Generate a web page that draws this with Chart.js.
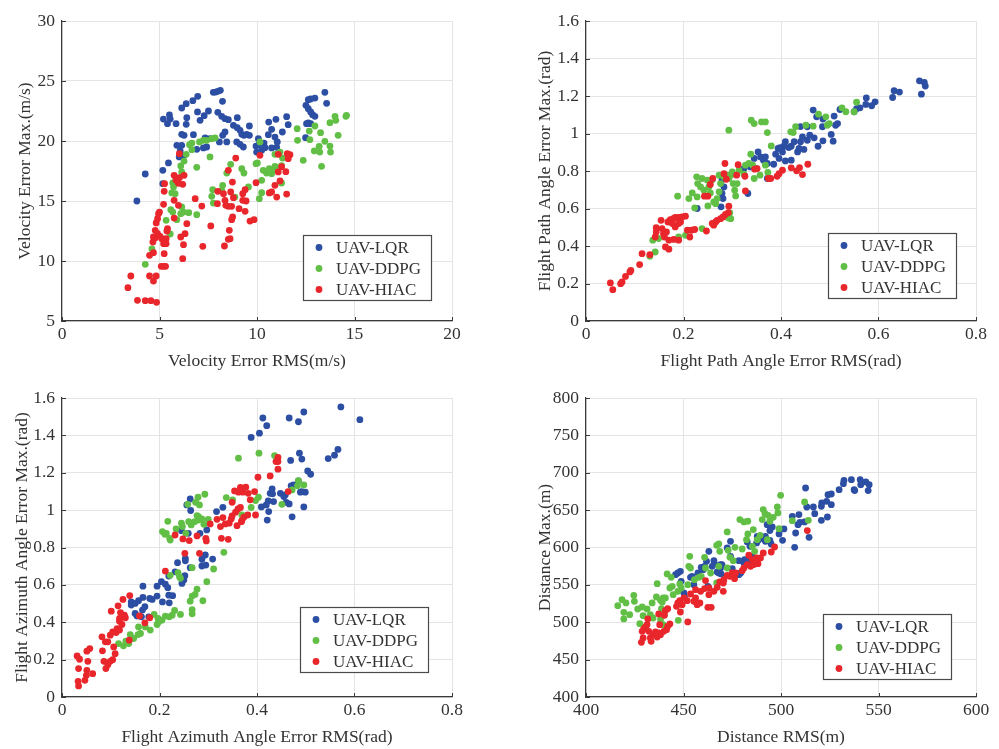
<!DOCTYPE html>
<html>
<head>
<meta charset="utf-8">
<script src="https://cdn.jsdelivr.net/npm/chart.js@4.4.0/dist/chart.umd.min.js"></script>
<style>
  html, body { margin: 0; padding: 0; background: #fff; }
  body { width: 999px; height: 749px; position: relative; overflow: hidden; }
  canvas { position: absolute; }
</style>
</head>
<body>
<canvas id="velocity" width="500" height="374" style="left:0;top:0"></canvas>
<canvas id="pathAngle" width="499" height="374" style="left:500px;top:0"></canvas>
<canvas id="azimuth" width="500" height="375" style="left:0;top:374px"></canvas>
<canvas id="distance" width="499" height="375" style="left:500px;top:374px"></canvas>
<script>
const seriesNames = ['UAV-LQR', 'UAV-DDPG', 'UAV-HIAC'];

// velocity error: [RMS, Max] in m/s
const velLqr = [[3.84,15.0],[4.27,17.25],[5.17,17.56],[5.46,18.17],[5.17,16.44],[5.2,21.83],[5.41,21.44],[5.51,22.17],[5.55,21.83],[5.85,21.44],[6.14,22.75],[6.37,23.11],[6.71,23.36],[6.96,23.72],[6.4,21.94],[6.37,21.39],[6.95,22.42],[7.08,21.72],[7.29,22.11],[7.51,22.5],[7.76,24.06],[7.88,24.08],[7.99,24.14],[8.12,24.22],[8.23,23.31],[7.99,22.39],[8.19,22.06],[8.36,21.86],[8.53,21.78],[8.99,21.94],[8.79,21.31],[8.99,21.11],[9.13,20.89],[9.22,20.56],[9.33,20.47],[9.47,20.56],[9.61,20.47],[9.61,21.25],[8.96,19.92],[9.13,19.72],[9.3,19.5],[8.45,19.92],[8.36,20.75],[8.24,20.47],[8.07,19.92],[7.59,20.19],[7.34,20.25],[7.25,19.42],[7.42,19.5],[6.91,19.31],[6.74,20.53],[6.14,20.56],[6.26,20.47],[5.89,19.64],[6.14,19.64],[6.06,19.17],[6.23,18.75],[6.01,18.67],[5.89,16.53],[10.07,20.19],[10.1,19.69],[9.95,19.58],[9.98,19.08],[10.24,19.22],[10.41,19.44],[10.58,20.53],[10.36,19.83],[10.75,20.97],[10.6,21.58],[10.97,21.81],[10.92,20.33],[11.04,19.92],[11.01,19.47],[10.75,19.42],[11.3,20.75],[11.52,22.03],[11.6,21.36],[12.49,20.28],[12.54,21.44],[12.63,21.5],[12.75,21.44],[12.51,22.97],[12.63,22.69],[12.75,22.42],[12.85,22.19],[12.97,22.06],[12.63,23.44],[12.75,23.5],[12.97,23.58],[13.48,24.06],[13.57,23.14]];
const velDdpg = [[4.27,9.72],[4.61,11.0],[5.34,13.39],[5.55,12.25],[5.58,14.28],[5.68,14.08],[5.89,13.44],[6.09,13.94],[6.23,14.08],[6.14,14.5],[6.5,14.03],[6.91,13.86],[5.63,15.67],[5.72,16.17],[5.8,15.61],[5.68,16.5],[5.85,16.86],[6.14,17.42],[6.09,17.92],[6.26,18.33],[6.37,18.89],[6.54,19.69],[6.66,19.83],[6.66,19.28],[6.91,17.81],[7.05,19.92],[7.25,20.06],[7.42,20.06],[7.68,20.19],[7.85,20.25],[7.59,18.67],[7.73,15.94],[7.68,15.39],[7.76,14.83],[8.24,16.31],[8.19,15.89],[8.45,17.33],[8.65,18.06],[8.87,15.33],[9.22,17.69],[9.33,17.33],[9.56,16.17],[9.95,18.11],[10.02,18.17],[10.15,19.92],[10.12,15.19],[10.24,15.69],[10.24,16.72],[10.32,17.56],[10.49,17.33],[10.63,17.69],[10.75,17.28],[10.84,17.61],[10.92,17.89],[11.09,17.69],[11.26,17.94],[11.31,18.58],[10.92,18.89],[11.18,19.08],[11.26,16.5],[12.06,21.03],[12.08,20.06],[12.37,18.39],[12.68,20.83],[12.71,20.11],[12.94,19.17],[12.97,21.25],[13.19,19.56],[13.22,19.08],[13.26,20.69],[13.31,17.89],[13.48,19.97],[13.74,19.58],[13.77,19.08],[13.74,21.53],[14.0,22.06],[14.16,20.47],[14.56,22.06],[14.59,22.14],[14.04,21.72]];
const velHiac = [[3.38,7.78],[3.53,8.75],[3.87,6.72],[4.27,6.69],[4.56,6.69],[4.85,6.56],[4.49,8.75],[4.69,8.33],[4.83,8.75],[4.49,10.47],[4.69,10.69],[4.66,11.58],[4.69,12.0],[4.78,12.56],[4.83,13.17],[4.9,13.53],[4.95,13.94],[5.0,14.08],[4.78,11.92],[4.9,12.28],[5.03,12.06],[5.12,11.86],[5.34,11.86],[5.21,11.44],[5.34,11.44],[5.24,10.61],[5.09,9.56],[5.21,9.56],[5.31,9.56],[5.41,12.69],[5.38,12.5],[5.21,14.72],[5.24,15.81],[5.26,16.44],[5.75,17.14],[5.85,16.72],[6.02,16.94],[6.19,16.39],[6.26,17.14],[5.97,16.47],[5.75,15.06],[5.97,14.64],[5.75,13.58],[6.4,13.11],[6.31,12.28],[6.09,12.0],[6.23,11.36],[6.19,10.19],[6.02,18.94],[6.83,15.19],[7.17,14.58],[7.22,11.22],[7.63,12.92],[7.99,15.81],[7.97,14.78],[8.28,15.61],[8.36,15.06],[8.4,14.64],[8.53,14.56],[8.53,17.56],[8.74,16.58],[8.65,15.75],[8.79,15.28],[8.7,14.56],[8.75,13.67],[8.7,13.44],[8.58,12.56],[8.53,11.81],[8.62,11.86],[8.33,11.25],[8.91,18.58],[9.27,15.61],[9.39,15.94],[9.27,15.06],[9.44,15.0],[9.08,14.36],[9.39,14.14],[9.64,13.33],[9.85,13.44],[9.95,16.53],[10.15,18.81],[10.63,15.67],[10.75,15.75],[10.92,16.31],[11.01,15.33],[11.09,17.42],[11.18,16.67],[11.26,17.86],[11.48,17.44],[11.52,15.58],[11.09,18.89],[11.55,18.94],[11.69,18.86],[11.6,18.53]];

// flight path angle error: [RMS, Max] in rad
const pathLqr = [[0.684,1.281],[0.694,1.272],[0.696,1.253],[0.688,1.21],[0.632,1.228],[0.643,1.221],[0.629,1.192],[0.593,1.169],[0.586,1.148],[0.575,1.19],[0.574,1.155],[0.562,1.137],[0.555,1.132],[0.55,1.116],[0.521,1.128],[0.509,1.093],[0.516,1.053],[0.512,1.044],[0.466,1.125],[0.473,1.089],[0.486,1.077],[0.44,1.037],[0.454,1.036],[0.485,1.036],[0.503,0.995],[0.507,0.959],[0.486,0.961],[0.476,0.932],[0.468,0.977],[0.459,0.991],[0.454,0.964],[0.444,0.982],[0.44,0.956],[0.447,0.915],[0.434,0.902],[0.437,0.92],[0.427,0.956],[0.421,0.932],[0.416,0.925],[0.409,0.956],[0.406,0.932],[0.403,0.902],[0.398,0.925],[0.394,0.92],[0.389,0.89],[0.396,0.867],[0.409,0.854],[0.421,0.858],[0.385,0.836],[0.372,0.84],[0.368,0.875],[0.364,0.858],[0.358,0.875],[0.353,0.902],[0.345,0.867],[0.337,0.822],[0.35,0.813],[0.324,0.813],[0.372,0.76],[0.283,0.715],[0.279,0.68],[0.281,0.653],[0.277,0.609],[0.332,0.68],[0.228,0.6],[0.279,0.754]];
const pathDdpg = [[0.131,0.345],[0.142,0.368],[0.137,0.431],[0.149,0.44],[0.19,0.448],[0.204,0.457],[0.238,0.493],[0.188,0.666],[0.211,0.653],[0.218,0.683],[0.223,0.603],[0.227,0.769],[0.229,0.733],[0.238,0.76],[0.235,0.715],[0.228,0.662],[0.242,0.698],[0.249,0.751],[0.252,0.715],[0.255,0.683],[0.259,0.754],[0.262,0.635],[0.266,0.626],[0.269,0.653],[0.273,0.689],[0.273,0.778],[0.276,0.733],[0.283,0.769],[0.29,0.778],[0.293,0.76],[0.297,0.778],[0.3,0.795],[0.302,0.733],[0.305,0.698],[0.307,0.667],[0.295,0.577],[0.297,0.546],[0.292,0.55],[0.25,0.614],[0.31,0.733],[0.314,0.804],[0.324,0.783],[0.327,0.831],[0.334,0.84],[0.338,0.89],[0.342,0.831],[0.345,0.76],[0.357,0.778],[0.368,0.831],[0.373,0.792],[0.293,1.018],[0.339,1.071],[0.345,1.053],[0.36,1.062],[0.368,1.062],[0.372,1.005],[0.38,0.934],[0.42,1.009],[0.425,1.005],[0.43,1.036],[0.451,1.044],[0.466,1.039],[0.477,1.103],[0.492,1.089],[0.495,1.044],[0.499,1.053],[0.525,1.137],[0.533,1.116],[0.55,1.116],[0.555,1.167]];
const pathHiac = [[0.05,0.203],[0.055,0.167],[0.071,0.199],[0.074,0.208],[0.081,0.238],[0.09,0.262],[0.092,0.27],[0.11,0.301],[0.115,0.359],[0.131,0.354],[0.142,0.448],[0.144,0.475],[0.144,0.498],[0.154,0.537],[0.156,0.493],[0.159,0.466],[0.161,0.448],[0.165,0.475],[0.168,0.528],[0.173,0.541],[0.179,0.546],[0.183,0.552],[0.19,0.552],[0.197,0.555],[0.204,0.559],[0.177,0.52],[0.183,0.502],[0.19,0.52],[0.194,0.528],[0.17,0.431],[0.163,0.395],[0.17,0.383],[0.18,0.435],[0.19,0.431],[0.208,0.484],[0.213,0.448],[0.216,0.484],[0.223,0.488],[0.247,0.48],[0.259,0.52],[0.262,0.511],[0.266,0.528],[0.269,0.537],[0.276,0.546],[0.281,0.555],[0.286,0.568],[0.292,0.578],[0.293,0.612],[0.243,0.666],[0.25,0.666],[0.255,0.728],[0.26,0.76],[0.283,0.786],[0.285,0.84],[0.288,0.756],[0.309,0.778],[0.312,0.834],[0.326,0.772],[0.327,0.694],[0.346,0.81],[0.351,0.813],[0.374,0.76],[0.379,0.76],[0.392,0.772],[0.396,0.786],[0.403,0.804],[0.421,0.817],[0.432,0.801],[0.438,0.818],[0.444,0.781],[0.455,0.836]];

// flight azimuth angle error: [RMS, Max] in rad
const aziLqr = [[0.572,1.552],[0.611,1.484],[0.496,1.525],[0.466,1.493],[0.485,1.473],[0.412,1.493],[0.42,1.452],[0.405,1.412],[0.388,1.389],[0.487,1.305],[0.492,1.273],[0.469,1.266],[0.566,1.325],[0.559,1.294],[0.546,1.276],[0.504,1.21],[0.51,1.192],[0.485,1.157],[0.475,1.135],[0.47,1.13],[0.492,1.099],[0.499,1.096],[0.489,1.096],[0.431,1.114],[0.427,1.09],[0.432,1.087],[0.448,1.09],[0.455,1.073],[0.458,1.081],[0.46,1.042],[0.466,1.033],[0.434,1.046],[0.423,1.049],[0.419,1.028],[0.409,1.017],[0.424,0.992],[0.421,0.947],[0.472,0.964],[0.496,1.017],[0.317,0.992],[0.33,1.015],[0.263,1.06],[0.264,0.998],[0.256,1.028],[0.245,0.89],[0.259,0.876],[0.283,0.876],[0.297,0.894],[0.253,0.742],[0.253,0.729],[0.237,0.719],[0.263,0.692],[0.287,0.737],[0.294,0.76],[0.309,0.738],[0.287,0.701],[0.295,0.706],[0.232,0.67],[0.252,0.649],[0.25,0.626],[0.246,0.608],[0.219,0.647],[0.204,0.617],[0.212,0.604],[0.217,0.585],[0.195,0.593],[0.166,0.593],[0.219,0.545],[0.227,0.542],[0.22,0.504],[0.206,0.509],[0.195,0.54],[0.185,0.522],[0.18,0.527],[0.166,0.533],[0.157,0.515],[0.15,0.501],[0.142,0.509],[0.142,0.492],[0.17,0.483],[0.165,0.465],[0.15,0.447],[0.154,0.434],[0.163,0.429],[0.178,0.429]];
const aziDdpg = [[0.116,0.286],[0.126,0.274],[0.137,0.286],[0.14,0.334],[0.131,0.299],[0.147,0.313],[0.156,0.334],[0.161,0.34],[0.157,0.375],[0.171,0.375],[0.181,0.358],[0.189,0.442],[0.195,0.388],[0.198,0.402],[0.197,0.42],[0.205,0.411],[0.212,0.433],[0.22,0.429],[0.226,0.438],[0.231,0.463],[0.243,0.442],[0.267,0.445],[0.267,0.468],[0.263,0.513],[0.267,0.54],[0.273,0.549],[0.277,0.577],[0.289,0.515],[0.297,0.617],[0.311,0.685],[0.332,0.774],[0.222,0.651],[0.238,0.665],[0.241,0.644],[0.243,0.635],[0.267,0.692],[0.206,0.885],[0.211,0.871],[0.214,0.876],[0.221,0.849],[0.222,0.84],[0.217,0.94],[0.234,0.899],[0.245,0.93],[0.247,0.912],[0.254,0.876],[0.26,0.938],[0.265,0.921],[0.272,0.938],[0.277,0.971],[0.28,0.947],[0.287,0.953],[0.291,0.924],[0.3,0.951],[0.28,0.965],[0.258,1.031],[0.274,1.042],[0.279,1.069],[0.282,1.028],[0.293,1.085],[0.337,1.067],[0.35,1.055],[0.388,1.014],[0.397,1.051],[0.403,1.069],[0.369,0.974],[0.362,1.278],[0.404,1.305],[0.436,1.292],[0.451,1.031],[0.472,1.108],[0.483,1.13],[0.485,1.158],[0.496,1.135]];
const aziHiac = [[0.034,0.059],[0.033,0.084],[0.047,0.089],[0.05,0.116],[0.063,0.125],[0.051,0.143],[0.034,0.152],[0.031,0.22],[0.036,0.202],[0.053,0.191],[0.051,0.245],[0.057,0.259],[0.083,0.247],[0.089,0.295],[0.094,0.295],[0.082,0.322],[0.099,0.331],[0.086,0.191],[0.09,0.152],[0.094,0.173],[0.099,0.191],[0.104,0.2],[0.109,0.232],[0.106,0.268],[0.104,0.349],[0.111,0.345],[0.113,0.366],[0.118,0.358],[0.118,0.406],[0.123,0.388],[0.101,0.459],[0.115,0.488],[0.12,0.452],[0.118,0.42],[0.128,0.438],[0.13,0.424],[0.125,0.522],[0.139,0.543],[0.138,0.304],[0.159,0.434],[0.17,0.397],[0.18,0.424],[0.212,0.674],[0.232,0.867],[0.252,0.769],[0.261,0.837],[0.248,0.846],[0.277,0.862],[0.282,0.769],[0.295,0.849],[0.296,0.835],[0.304,0.926],[0.318,0.951],[0.325,0.912],[0.327,0.849],[0.341,0.844],[0.33,0.96],[0.335,0.926],[0.343,0.93],[0.347,0.953],[0.349,0.969],[0.359,0.917],[0.356,0.989],[0.361,1.006],[0.366,1.014],[0.369,0.944],[0.373,0.962],[0.368,0.938],[0.381,0.974],[0.397,0.974],[0.349,1.042],[0.354,1.103],[0.366,1.121],[0.371,1.096],[0.377,1.123],[0.382,1.09],[0.386,1.055],[0.395,1.099],[0.362,1.096],[0.402,1.176],[0.427,1.183],[0.443,1.282],[0.443,1.26],[0.439,1.26],[0.443,1.219],[0.464,1.099]];

// distance: [RMS, Max] in m
const distLqr = [[540.6,690.8],[543.5,687.7],[545.2,684.1],[544.7,676.1],[540.9,684.1],[537.8,676.1],[537.5,677.4],[536.1,690.8],[532.3,689.9],[532.0,685.4],[529.8,677.4],[525.8,671.6],[524.1,670.7],[523.4,661.8],[525.8,657.3],[520.9,659.6],[520.7,655.1],[517.3,645.3],[516.6,654.2],[523.8,640.8],[520.7,636.4],[512.6,679.6],[513.2,654.2],[512.1,634.2],[514.4,613.6],[509.7,633.7],[508.7,630.6],[509.2,644.0],[505.8,641.7],[507.5,619.4],[507.0,600.3],[500.8,609.6],[501.5,624.8],[499.0,618.1],[495.5,627.5],[494.3,622.6],[492.9,630.6],[492.0,615.0],[494.3,609.6],[494.9,604.7],[492.0,608.3],[490.4,611.9],[487.8,615.0],[487.5,606.1],[488.2,609.2],[482.7,607.4],[484.1,601.6],[485.3,588.2],[484.4,583.8],[481.3,583.8],[481.0,579.3],[479.3,565.9],[478.4,563.7],[475.0,571.7],[474.1,588.2],[472.4,599.4],[469.0,577.1],[469.7,577.1],[468.7,574.8],[469.0,572.6],[468.1,565.9],[469.3,564.6],[467.3,567.3],[465.9,578.0],[465.6,582.4],[464.7,574.8],[463.0,594.9],[461.8,581.5],[460.8,574.8],[460.1,570.4],[459.1,573.5],[457.4,565.9],[454.4,561.5],[453.6,560.1],[455.3,550.3],[462.5,548.1],[463.0,545.8],[450.2,539.2],[450.5,533.8],[448.4,568.1],[447.1,565.9],[445.9,563.7],[448.8,554.8],[478.4,582.4],[474.1,608.3]];
const distDdpg = [[416.3,522.2],[418.5,530.2],[420.5,525.8],[419.4,513.3],[419.4,504.4],[422.4,510.2],[424.5,536.0],[424.8,528.0],[426.5,517.7],[428.8,520.4],[427.6,498.1],[429.3,508.8],[431.3,517.7],[433.0,510.2],[433.9,525.8],[436.1,533.8],[436.5,551.6],[438.2,529.3],[439.1,527.1],[438.7,518.2],[439.6,532.5],[440.7,532.5],[440.2,510.2],[439.5,496.8],[434.4,505.7],[438.2,503.5],[441.6,564.6],[443.7,560.1],[443.0,545.8],[444.2,548.1],[444.7,536.9],[447.1,541.4],[448.1,551.2],[448.8,545.8],[447.3,502.6],[452.2,550.3],[452.7,574.8],[453.2,588.2],[453.6,572.6],[455.6,557.0],[457.9,560.1],[459.1,561.5],[460.8,586.9],[461.3,572.6],[463.9,565.9],[467.0,552.5],[467.0,602.9],[468.1,604.7],[468.6,594.9],[468.1,574.8],[472.4,620.8],[472.9,596.2],[472.4,572.6],[473.8,586.9],[475.5,582.4],[476.4,600.3],[478.9,637.3],[480.1,598.0],[481.0,634.2],[483.0,635.1],[483.0,618.1],[482.3,610.5],[485.3,601.6],[485.8,624.0],[486.5,594.9],[487.8,610.5],[489.3,616.3],[490.4,637.3],[490.9,650.7],[491.8,645.3],[493.4,643.1],[494.3,635.1],[496.0,640.4],[498.1,654.2],[498.4,646.2],[499.0,625.2],[499.8,669.8],[505.8,635.9],[512.1,660.9],[514.0,636.4],[493.0,610.5]];
const distHiac = [[428.4,473.1],[429.3,478.9],[428.8,487.9],[429.6,491.0],[430.5,493.7],[431.3,496.8],[431.7,504.4],[432.2,487.9],[433.0,478.9],[433.4,474.5],[434.4,483.4],[435.6,487.0],[436.5,480.3],[437.3,485.6],[438.2,483.4],[437.3,511.1],[437.8,496.8],[439.9,487.9],[441.3,490.1],[441.9,494.6],[443.0,497.7],[440.7,515.5],[441.9,518.2],[440.2,509.3],[446.4,521.3],[447.1,525.8],[448.1,528.9],[449.3,523.5],[448.4,513.7],[450.2,532.5],[451.9,528.9],[453.6,537.8],[455.3,528.0],[456.2,532.5],[457.0,523.5],[458.4,525.8],[456.2,543.6],[458.8,541.4],[461.3,555.7],[460.8,545.0],[463.0,545.8],[463.0,536.9],[462.5,520.0],[464.2,520.0],[465.6,541.4],[467.3,546.7],[452.2,500.4],[468.6,553.9],[470.4,552.5],[470.7,557.0],[470.4,541.4],[472.4,562.8],[473.8,561.5],[475.0,565.9],[475.5,561.5],[476.2,558.3],[476.7,565.9],[480.1,569.0],[481.0,572.6],[482.7,577.1],[483.5,589.6],[484.4,574.8],[485.3,583.8],[486.1,577.1],[487.5,586.0],[488.2,578.4],[489.5,586.0],[490.9,592.7],[495.0,594.0],[496.7,600.7],[513.5,622.6]];

// axis tick values
const velTicksX = [0, 5, 10, 15, 20];
const velTicksY = [5, 10, 15, 20, 25, 30];
const radTicksX = [0, 0.2, 0.4, 0.6, 0.8];
const radTicksY = [0, 0.2, 0.4, 0.6, 0.8, 1, 1.2, 1.4, 1.6];
const distTicksX = [400, 450, 500, 550, 600];
const distTicksY = [400, 450, 500, 550, 600, 650, 700, 750, 800];

const colors = ['#2c4ea3', '#62bf46', '#e8262b'];
const inkColor = '#333333';
const gridColor = '#e4e4e4';
const axisColor = '#3a3a3a';
const fontFamily = '"Liberation Serif", "Times New Roman", serif';
const lineH = 17.5 * 1.2;

// MATLAB-style inward tick marks on the two drawn axes
const innerTicks = {
  id: 'innerTicks',
  beforeDatasetsDraw(chart) {
    const {ctx, chartArea: a, scales: {x, y}} = chart;
    ctx.save();
    ctx.strokeStyle = axisColor;
    ctx.lineWidth = 1;
    ctx.beginPath();
    x.ticks.forEach(t => {
      const px = Math.round(x.getPixelForValue(t.value)) + 0.5;
      ctx.moveTo(px, a.bottom);
      ctx.lineTo(px, a.bottom - 4);
    });
    y.ticks.forEach(t => {
      const py = Math.round(y.getPixelForValue(t.value)) + 0.5;
      ctx.moveTo(a.left, py);
      ctx.lineTo(a.left + 4, py);
    });
    ctx.stroke();
    ctx.restore();
  }
};

// boxed legend sitting in the lower right corner of the plot area
const boxLegend = {
  id: 'boxLegend',
  afterDatasetsDraw(chart, args, opts) {
    const {ctx, chartArea: a} = chart;
    const w = 128, h = 65;
    const left = a.right - opts.right - w;
    const top = a.bottom - opts.bottom - h;
    ctx.save();
    ctx.fillStyle = '#ffffff';
    ctx.fillRect(left, top, w, h);
    ctx.strokeStyle = '#4a4a4a';
    ctx.lineWidth = 1.2;
    ctx.strokeRect(left + 0.5, top + 0.5, w, h);
    ctx.font = '17px ' + fontFamily;
    ctx.textBaseline = 'middle';
    chart.data.datasets.forEach((ds, i) => {
      const cy = top + 12.5 + i * 21;
      ctx.fillStyle = ds.backgroundColor;
      ctx.beginPath();
      ctx.arc(left + 16, cy, 3.4, 0, Math.PI * 2);
      ctx.fill();
      ctx.fillStyle = inkColor;
      ctx.fillText(ds.label, left + 33, cy + 1);
    });
    ctx.restore();
  }
};

function axis(ticks, title, titlePad, fitSize, horizontal) {
  return {
    type: 'linear',
    min: ticks[0],
    max: ticks[ticks.length - 1],
    afterBuildTicks: s => { s.ticks = ticks.map(v => ({value: v})); },
    afterFit: s => { if (horizontal) s.height = fitSize; else s.width = fitSize; },
    grid: {color: gridColor, lineWidth: 1, drawTicks: false},
    border: {display: true, color: axisColor, width: 1.2},
    ticks: {
      color: inkColor,
      font: {family: fontFamily, size: 17.5},
      padding: horizontal ? 3 : 7,
      maxRotation: 0,
      autoSkip: false,
      callback: v => String(v)
    },
    title: {
      display: true,
      text: title,
      color: inkColor,
      font: {family: fontFamily, size: 17.5},
      padding: titlePad
    }
  };
}

// p: canvas box and target plot area in page pixels
function panel(id, p, sets, xTicks, yTicks, xTitle, yTitle, legendPos) {
  const el = document.getElementById(id);
  const cw = el.width, ch = el.height;
  return new Chart(el, {
    type: 'scatter',
    data: {
      datasets: sets.map((pts, i) => ({
        label: seriesNames[i],
        data: pts.map(([x, y]) => ({x, y})),
        backgroundColor: colors[i],
        borderWidth: 0,
        pointRadius: 3.4,
        pointHoverRadius: 3.4,
        order: sets.length - i
      }))
    },
    options: {
      responsive: false,
      animation: false,
      layout: {padding: {left: 0, top: p.top - p.cy, right: p.cx + cw - p.right, bottom: 0}},
      scales: {
        x: axis(xTicks, xTitle, {top: 0, bottom: p.cy + ch - p.xTitle - lineH / 2}, p.cy + ch - p.bottom, true),
        y: axis(yTicks, yTitle, {top: p.yTitle - p.cx - lineH / 2, bottom: 0}, p.left - p.cx, false)
      },
      plugins: {
        legend: {display: false},
        tooltip: {enabled: false},
        boxLegend: legendPos
      }
    },
    plugins: [innerTicks, boxLegend]
  });
}

panel('velocity', {cx: 0, cy: 0, left: 62, top: 21, right: 452, bottom: 321, yTitle: 25, xTitle: 361},
  [velLqr, velDdpg, velHiac], velTicksX, velTicksY,
  'Velocity Error RMS(m/s)', 'Velocity Error Max.(m/s)', {right: 21, bottom: 21});

panel('pathAngle', {cx: 500, cy: 0, left: 586, top: 21, right: 976, bottom: 321, yTitle: 545, xTitle: 361},
  [pathLqr, pathDdpg, pathHiac], radTicksX, radTicksY,
  'Flight Path Angle Error RMS(rad)', 'Flight Path Angle Error Max.(rad)', {right: 20, bottom: 23});

panel('azimuth', {cx: 0, cy: 374, left: 62, top: 398, right: 452, bottom: 697, yTitle: 22, xTitle: 737},
  [aziLqr, aziDdpg, aziHiac], radTicksX, radTicksY,
  'Flight Azimuth Angle Error RMS(rad)', 'Flight Azimuth Angle Error Max.(rad)', {right: 24, bottom: 25});

panel('distance', {cx: 500, cy: 374, left: 586, top: 398, right: 976, bottom: 697, yTitle: 545, xTitle: 737},
  [distLqr, distDdpg, distHiac], distTicksX, distTicksY,
  'Distance RMS(m)', 'Distance Max.(m)', {right: 25, bottom: 18});
</script>
</body>
</html>
